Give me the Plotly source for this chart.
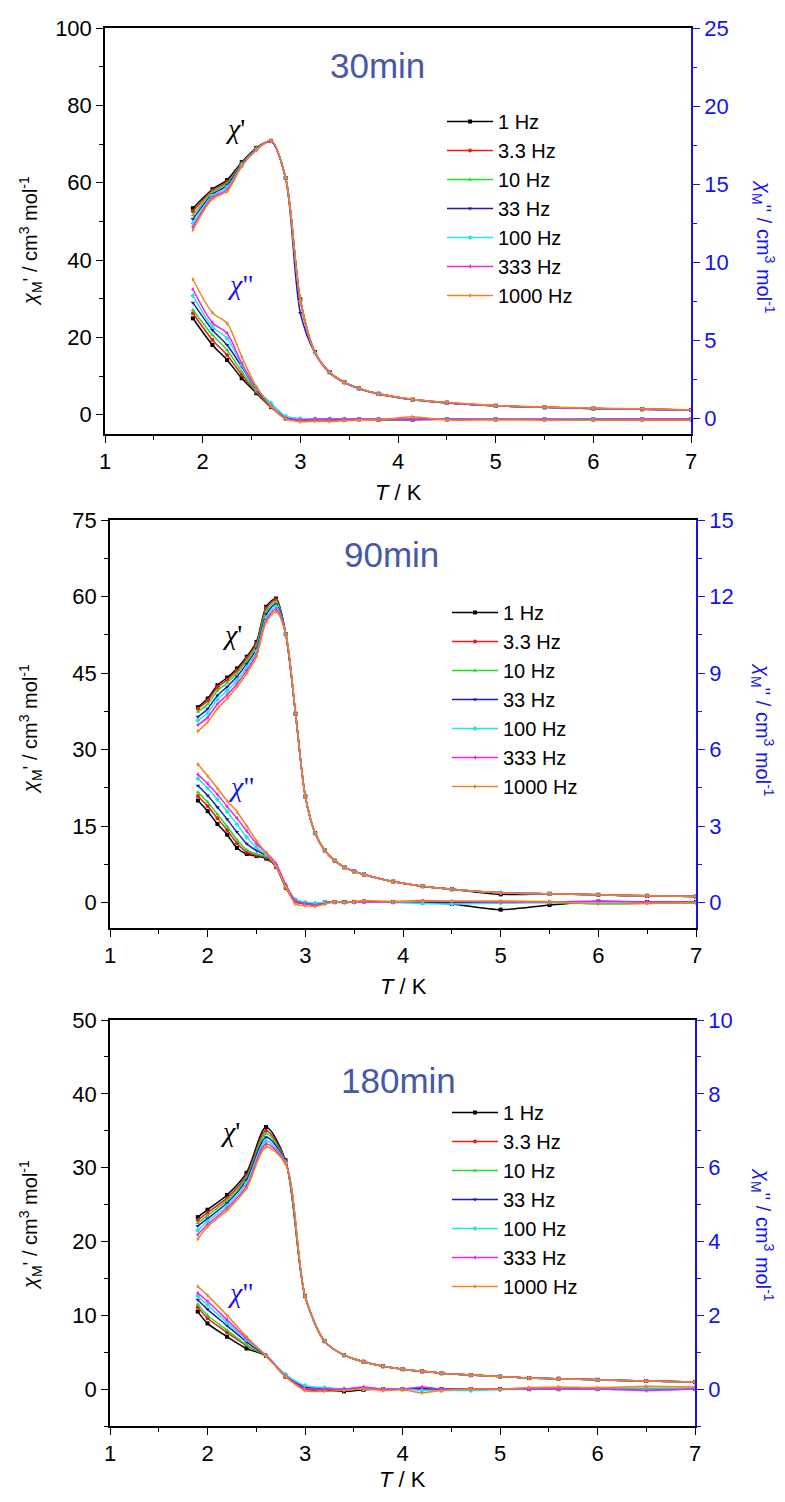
"""
plot.py - Susceptibilidad AC (chi' y chi'') vs T para 30, 90 y 180 min.
"""

import plotly.graph_objects as go

FREQS = ["1 Hz", "3.3 Hz", "10 Hz", "33 Hz", "100 Hz", "333 Hz", "1000 Hz"]
COLORS = ["#000000", "#F01818", "#22DD22", "#1E1EB4", "#22E6E6", "#F020F0", "#F28322"]
SYMBOLS = ["square", "circle", "triangle-up", "triangle-down", "diamond",
           "triangle-left", "triangle-right"]

# ---- 30 min ----
T_30 = [1.9, 2.1, 2.25, 2.4, 2.55, 2.7, 2.85, 3.0, 3.15, 3.3, 3.45, 3.6, 3.8,
        4.15, 4.5, 5.0, 5.5, 6.0, 6.5, 7.0]
CHI1_30 = [
    [53.4, 58.3, 60.7, 65.3, 69.0, 70.8, 61.2, 29.8, 16.2, 11.0, 8.4, 6.8, 5.4, 3.9, 3.1, 2.3, 1.9, 1.6, 1.4, 1.2],
    [52.6, 58.0, 60.2, 65.0, 68.9, 70.8, 61.2, 29.6, 16.1, 10.9, 8.4, 6.8, 5.4, 3.9, 3.1, 2.3, 1.9, 1.6, 1.4, 1.2],
    [51.6, 57.6, 59.8, 64.9, 68.8, 70.8, 61.2, 29.5, 16.1, 10.9, 8.3, 6.8, 5.4, 3.9, 3.1, 2.3, 1.9, 1.6, 1.4, 1.2],
    [50.6, 57.0, 59.3, 64.7, 68.7, 70.7, 61.0, 26.3, 15.9, 10.8, 8.3, 6.7, 5.3, 3.9, 3.0, 2.3, 1.9, 1.6, 1.4, 1.2],
    [49.5, 56.6, 58.8, 64.5, 68.6, 70.8, 61.2, 29.4, 16.0, 10.9, 8.3, 6.8, 5.4, 3.9, 3.1, 2.3, 1.9, 1.6, 1.4, 1.2],
    [48.6, 56.2, 58.2, 64.3, 68.5, 70.8, 61.2, 29.5, 16.0, 10.9, 8.3, 6.8, 5.4, 3.9, 3.1, 2.3, 1.9, 1.6, 1.4, 1.2],
    [47.8, 55.8, 57.7, 64.2, 68.4, 71.0, 61.2, 29.8, 16.1, 11.0, 8.4, 6.8, 5.4, 4.0, 3.2, 2.4, 2.0, 1.7, 1.5, 1.3],
]
CHI2_30 = [
    [6.41, 4.70, 3.74, 2.57, 1.61, 0.72, 0.0, -0.10, -0.08, -0.08, -0.08, -0.06, -0.08, -0.08, -0.06, -0.06, -0.06, -0.06, -0.06, -0.06],
    [6.73, 5.02, 4.06, 2.78, 1.68, 0.74, 0.0, -0.10, -0.08, -0.08, -0.06, -0.06, -0.06, -0.06, -0.06, -0.06, -0.06, -0.06, -0.06, -0.06],
    [6.94, 5.34, 4.38, 2.99, 1.75, 0.76, 0.02, -0.08, -0.06, -0.06, -0.06, -0.05, -0.06, -0.06, -0.05, -0.05, -0.06, -0.06, -0.06, -0.06],
    [7.41, 5.66, 4.70, 3.31, 1.85, 0.80, 0.05, -0.06, -0.06, -0.06, -0.05, -0.05, -0.05, -0.06, -0.05, -0.05, -0.05, -0.05, -0.05, -0.05],
    [7.86, 5.87, 5.13, 3.42, 1.90, 0.99, 0.15, -0.02, -0.03, -0.03, -0.03, -0.04, -0.04, -0.05, -0.05, -0.04, -0.04, -0.05, -0.05, -0.05],
    [8.27, 6.13, 5.45, 3.53, 1.95, 0.82, 0.02, -0.08, -0.05, -0.04, -0.04, -0.04, -0.05, -0.06, -0.06, -0.06, -0.06, -0.08, -0.06, -0.06],
    [8.91, 6.77, 6.09, 3.95, 2.03, 0.80, -0.05, -0.21, -0.18, -0.20, -0.15, -0.10, -0.10, 0.10, -0.10, -0.10, -0.12, -0.12, -0.12, -0.12],
]

# ---- 90 min ----
T_90 = [1.9, 2.0, 2.1, 2.2, 2.3, 2.4, 2.5, 2.6, 2.7, 2.8, 2.9, 3.0, 3.1, 3.2, 3.3,
        3.4, 3.5, 3.6, 3.9, 4.2, 4.5, 5.0, 5.5, 6.0, 6.5, 7.0]
CHI1_90 = [
    [38.3, 40.0, 42.6, 44.1, 45.9, 48.2, 51.1, 58.0, 59.6, 52.6, 37.0, 20.8, 13.6, 10.2, 8.2, 6.9, 6.1, 5.5, 4.1, 3.2, 2.6, 1.6, 1.7, 1.5, 1.3, 1.2],
    [38.0, 39.6, 42.2, 43.7, 45.5, 47.9, 50.8, 57.7, 59.4, 52.6, 37.0, 20.8, 13.6, 10.2, 8.2, 6.9, 6.1, 5.5, 4.1, 3.2, 2.6, 1.9, 1.7, 1.5, 1.3, 1.2],
    [37.4, 38.9, 41.5, 43.1, 45.0, 47.4, 50.4, 57.2, 59.0, 52.6, 37.0, 20.8, 13.6, 10.2, 8.2, 6.9, 6.1, 5.5, 4.1, 3.2, 2.6, 1.9, 1.7, 1.5, 1.3, 1.2],
    [36.4, 38.0, 40.6, 42.3, 44.3, 46.8, 49.8, 56.5, 58.5, 52.6, 37.0, 20.8, 13.6, 10.2, 8.2, 6.9, 6.1, 5.5, 4.1, 3.2, 2.6, 1.9, 1.7, 1.5, 1.3, 1.2],
    [35.7, 37.2, 39.8, 41.5, 43.6, 46.1, 49.2, 55.9, 58.0, 52.6, 37.0, 20.8, 13.6, 10.2, 8.2, 6.9, 6.1, 5.5, 4.1, 3.2, 2.6, 1.9, 1.7, 1.5, 1.3, 1.2],
    [34.8, 36.3, 38.9, 40.7, 42.9, 45.5, 48.7, 55.4, 57.5, 52.6, 37.0, 20.8, 13.6, 10.2, 8.2, 6.9, 6.1, 5.5, 4.1, 3.2, 2.6, 1.9, 1.7, 1.5, 1.3, 1.2],
    [33.6, 35.4, 38.0, 40.0, 42.3, 44.9, 48.2, 55.0, 57.0, 52.6, 37.0, 20.8, 13.6, 10.2, 8.2, 6.9, 6.1, 5.5, 4.1, 3.2, 2.6, 1.9, 1.7, 1.5, 1.3, 1.2],
]
CHI2_90 = [
    [4.00, 3.58, 3.08, 2.66, 2.14, 1.90, 1.82, 1.72, 1.40, 0.58, 0.04, -0.06, -0.08, 0.0, 0.02, 0.02, 0.02, 0.04, 0.02, 0.0, -0.06, -0.28, -0.10, 0.04, 0.02, 0.02],
    [4.18, 3.78, 3.30, 2.84, 2.32, 1.98, 1.86, 1.76, 1.40, 0.58, 0.04, -0.04, -0.06, 0.0, 0.02, 0.02, 0.02, 0.04, 0.02, 0.02, 0.0, 0.0, 0.02, 0.02, 0.0, 0.0],
    [4.32, 3.94, 3.46, 2.98, 2.46, 2.06, 1.90, 1.80, 1.42, 0.60, 0.06, -0.04, -0.06, 0.0, 0.02, 0.02, 0.02, 0.04, 0.04, 0.02, 0.0, 0.0, 0.0, -0.04, -0.02, 0.0],
    [4.58, 4.20, 3.74, 3.26, 2.76, 2.30, 2.04, 1.84, 1.44, 0.64, 0.08, -0.02, -0.04, 0.0, 0.02, 0.0, 0.02, 0.02, 0.02, 0.02, 0.0, 0.02, 0.02, 0.02, 0.0, 0.0],
    [4.86, 4.48, 4.04, 3.56, 3.06, 2.56, 2.16, 1.88, 1.46, 0.68, 0.12, 0.02, -0.02, 0.0, 0.0, 0.0, 0.0, 0.02, 0.0, -0.04, -0.06, -0.02, 0.0, 0.0, 0.0, 0.0],
    [5.02, 4.66, 4.24, 3.76, 3.30, 2.80, 2.30, 1.96, 1.52, 0.70, 0.06, -0.04, -0.10, -0.04, 0.02, 0.0, 0.02, 0.02, 0.02, 0.08, 0.04, 0.02, 0.02, 0.06, 0.02, 0.02],
    [5.42, 4.96, 4.48, 3.98, 3.56, 3.00, 2.42, 1.94, 1.42, 0.62, -0.06, -0.12, -0.16, -0.06, 0.04, 0.0, 0.04, 0.08, 0.04, 0.06, 0.06, 0.06, 0.04, -0.06, -0.04, 0.0],
]

# ---- 180 min ----
T_180 = [1.9, 2.0, 2.2, 2.4, 2.6, 2.8, 3.0, 3.2, 3.4, 3.6, 3.8, 4.0, 4.2, 4.4,
         4.7, 5.0, 5.3, 5.6, 6.0, 6.5, 7.0]
CHI1_180 = [
    [23.3, 24.3, 26.3, 29.3, 35.5, 31.0, 12.6, 6.5, 4.6, 3.7, 3.1, 2.7, 2.4, 2.15, 1.9, 1.7, 1.5, 1.4, 1.25, 1.1, 0.95],
    [22.9, 23.9, 25.9, 28.9, 35.0, 30.9, 12.6, 6.5, 4.6, 3.7, 3.1, 2.7, 2.4, 2.15, 1.9, 1.7, 1.5, 1.4, 1.25, 1.1, 0.95],
    [22.5, 23.5, 25.6, 28.6, 34.6, 30.8, 12.6, 6.5, 4.6, 3.7, 3.1, 2.7, 2.4, 2.15, 1.9, 1.7, 1.5, 1.4, 1.25, 1.1, 0.95],
    [22.1, 23.1, 25.2, 28.3, 34.1, 30.8, 12.6, 6.5, 4.6, 3.7, 3.1, 2.7, 2.4, 2.15, 1.9, 1.7, 1.5, 1.4, 1.25, 1.1, 0.95],
    [21.5, 22.7, 24.8, 27.9, 33.6, 30.7, 12.6, 6.5, 4.6, 3.7, 3.1, 2.7, 2.4, 2.15, 1.9, 1.7, 1.5, 1.4, 1.25, 1.1, 0.95],
    [20.9, 22.3, 24.5, 27.5, 33.2, 30.6, 12.6, 6.5, 4.6, 3.7, 3.1, 2.7, 2.4, 2.15, 1.9, 1.7, 1.5, 1.4, 1.25, 1.1, 0.95],
    [20.3, 22.0, 24.2, 27.2, 32.8, 30.5, 12.6, 6.5, 4.6, 3.7, 3.1, 2.7, 2.4, 2.15, 1.9, 1.7, 1.5, 1.4, 1.25, 1.1, 0.95],
]
CHI2_180 = [
    [2.10, 1.78, 1.42, 1.10, 0.90, 0.34, 0.0, -0.02, -0.06, -0.02, 0.0, 0.0, 0.0, 0.0, 0.0, 0.0, 0.0, 0.0, 0.0, 0.0, 0.0],
    [2.22, 1.92, 1.54, 1.18, 0.90, 0.34, 0.02, 0.0, 0.0, 0.0, 0.0, 0.0, 0.0, 0.0, 0.0, 0.0, 0.0, 0.0, 0.0, 0.0, 0.0],
    [2.30, 2.00, 1.60, 1.20, 0.90, 0.36, 0.04, 0.0, 0.0, 0.02, 0.0, 0.0, 0.0, 0.0, 0.0, 0.0, 0.02, 0.02, 0.02, 0.02, 0.02],
    [2.42, 2.16, 1.72, 1.28, 0.90, 0.38, 0.06, 0.02, 0.0, 0.0, 0.0, 0.0, 0.02, 0.0, 0.0, 0.0, 0.0, 0.0, 0.0, 0.0, 0.0],
    [2.52, 2.28, 1.80, 1.34, 0.92, 0.40, 0.10, 0.04, 0.0, 0.0, 0.0, 0.0, -0.04, -0.04, -0.04, -0.02, 0.0, 0.0, 0.0, 0.0, 0.0],
    [2.60, 2.38, 1.88, 1.38, 0.92, 0.36, 0.02, 0.0, 0.0, 0.06, 0.0, 0.0, 0.06, 0.0, 0.0, 0.0, 0.0, 0.0, 0.0, -0.04, 0.0],
    [2.78, 2.54, 2.00, 1.42, 0.90, 0.34, -0.04, -0.06, -0.04, 0.0, -0.04, -0.02, -0.10, -0.04, 0.0, 0.0, 0.04, 0.06, 0.04, 0.08, 0.06],
]

# Rangos de ejes (izq chi', der chi'') y ticks
PANELS = [
    dict(label="30min", T=T_30, chi1=CHI1_30, chi2=CHI2_30,
         yl=[-5, 100], dl=20, yr=[-1, 25], dr=5),
    dict(label="90min", T=T_90, chi1=CHI1_90, chi2=CHI2_90,
         yl=[-5, 75], dl=15, yr=[-1, 15], dr=3),
    dict(label="180min", T=T_180, chi1=CHI1_180, chi2=CHI2_180,
         yl=[-5, 50], dl=10, yr=[-1, 10], dr=2),
]

# La pagina tiene 8 px de margen en el body: la figura se achica y se corre
WIN_W, WIN_H, OFF = 785, 1502, 8
W, H = WIN_W - 2 * OFF, WIN_H - 2 * OFF


def px(x):
    return (x - OFF) / W


def py(y):
    return 1 - (y - OFF) / H


# cajas en pixeles de ventana: (izq, der, arriba, abajo)
BOXES = [(105, 691, 28, 434), (110, 696, 520, 928), (110, 695, 1020, 1426)]
LEGEND_POS = [(442, 102), (447, 593), (447, 1093)]
TXT_POS = [  # "Xmin", chi', chi'' (centros en px)
    ((377, 65), (235, 128), (240, 284)),
    ((391, 554), (232, 634), (241, 786)),
    ((398, 1080), (230, 1131), (240, 1292)),
]
YTITLE_SHIFT = [(10, 16), (5, 6), (2, 12)]  # corrimiento del centro (izq, der)
XTITLE_GAP = [58, 58, 53]  # distancia eje -> "T / K"

FONT = "Liberation Sans, Arial, sans-serif"
SERIF = "Liberation Serif, Times New Roman, serif"
BLUE = "#1414E6"
LABEL_BLUE = "#4659A6"

fig = go.Figure()
layout = {}

for i, p in enumerate(PANELS):
    xa = "x" if i == 0 else f"x{i + 1}"
    yl = f"y{2 * i + 1}" if i else "y"
    yr = f"y{2 * i + 2}"
    leg = "legend" if i == 0 else f"legend{i + 1}"

    # chi'' primero (eje derecho), despues chi' (eje izquierdo)
    for k in range(len(FREQS)):
        fig.add_trace(go.Scatter(
            x=p["T"], y=p["chi2"][k], xaxis=xa, yaxis=yr,
            mode="lines+markers", name=FREQS[k], showlegend=False,
            line=dict(color=COLORS[k], width=1.5, shape="spline", smoothing=0.8),
            marker=dict(symbol=SYMBOLS[k], size=4, color=COLORS[k]),
        ))
    for k in range(len(FREQS)):
        fig.add_trace(go.Scatter(
            x=p["T"], y=p["chi1"][k], xaxis=xa, yaxis=yl,
            mode="lines+markers", name=FREQS[k], legend=leg,
            line=dict(color=COLORS[k], width=1.5, shape="spline", smoothing=0.8),
            marker=dict(symbol=SYMBOLS[k], size=4, color=COLORS[k]),
        ))

    left, right, top, bottom = BOXES[i]
    xdom = [px(left), px(right)]
    ydom = [py(bottom), py(top)]

    xkey = "xaxis" if i == 0 else f"xaxis{i + 1}"
    ylkey = "yaxis" if i == 0 else f"yaxis{2 * i + 1}"
    yrkey = f"yaxis{2 * i + 2}"

    layout[xkey] = dict(
        domain=xdom, anchor=yl, range=[1, 7], dtick=1, tick0=1, automargin=False,
        showline=True, linecolor="black", linewidth=1.5, mirror=True,
        ticks="outside", ticklen=7, tickwidth=1.3, tickcolor="black",
        minor=dict(ticks="outside", ticklen=4, dtick=0.5, tick0=1, tickcolor="black"),
        showgrid=False, zeroline=False,
        tickfont=dict(size=22, color="black", family=FONT),
    )
    layout[ylkey] = dict(
        domain=ydom, anchor=xa, range=p["yl"], dtick=p["dl"], tick0=0, automargin=False,
        showline=True, linecolor="black", linewidth=1.5,
        ticks="outside", ticklen=7, tickwidth=1.3, tickcolor="black",
        minor=dict(ticks="outside", ticklen=4, dtick=p["dl"] / 2, tick0=0, tickcolor="black"),
        showgrid=False, zeroline=False,
        tickfont=dict(size=22, color="black", family=FONT),
    )
    layout[yrkey] = dict(
        overlaying=yl, anchor=xa, side="right", range=p["yr"], dtick=p["dr"], tick0=0,
        automargin=False,
        showline=True, linecolor=BLUE, linewidth=1.5,
        ticks="outside", ticklen=7, tickwidth=1.3, tickcolor=BLUE,
        minor=dict(ticks="outside", ticklen=4, dtick=p["dr"] / 2, tick0=0, tickcolor=BLUE),
        showgrid=False, zeroline=False,
        tickfont=dict(size=22, color=BLUE, family=FONT),
    )

    lx, ly = LEGEND_POS[i]
    layout[leg] = dict(
        x=px(lx), y=py(ly), xanchor="left", yanchor="top",
        bgcolor="rgba(0,0,0,0)", borderwidth=0,
        font=dict(size=20, color="black", family=FONT),
        itemwidth=46, tracegroupgap=0,
    )

    # titulos de ejes y etiquetas
    mid = (top + bottom) / 2
    sl, sr = YTITLE_SHIFT[i]
    fig.add_annotation(
        x=px(30), y=py(mid + sl), xref="paper", yref="paper", textangle=-90,
        xanchor="center", yanchor="middle", showarrow=False,
        text="<i>χ</i><sub>M</sub>' / cm<sup>3</sup> mol<sup>-1</sup>",
        font=dict(size=20, color="black", family=FONT),
    )
    fig.add_annotation(
        x=px(763), y=py(mid + sr), xref="paper", yref="paper", textangle=90,
        xanchor="center", yanchor="middle", showarrow=False,
        text="<i>χ</i><sub>M</sub>'' / cm<sup>3</sup> mol<sup>-1</sup>",
        font=dict(size=20, color=BLUE, family=FONT),
    )
    fig.add_annotation(
        x=px((left + right) / 2), y=py(bottom + XTITLE_GAP[i]), xref="paper", yref="paper",
        xanchor="center", yanchor="middle", showarrow=False, text="<i>T</i> / K",
        font=dict(size=22, color="black", family=FONT),
    )
    (tx, ty), (c1x, c1y), (c2x, c2y) = TXT_POS[i]
    fig.add_annotation(
        x=px(tx), y=py(ty), xref="paper", yref="paper", showarrow=False,
        xanchor="center", yanchor="middle",
        text=p["label"], font=dict(size=35, color=LABEL_BLUE, family=FONT),
    )
    fig.add_annotation(
        x=px(c1x), y=py(c1y), xref="paper", yref="paper", showarrow=False,
        xanchor="center", yanchor="middle",
        text="<i>χ</i>'", font=dict(size=28, color="black", family=SERIF),
    )
    fig.add_annotation(
        x=px(c2x), y=py(c2y), xref="paper", yref="paper", showarrow=False,
        xanchor="center", yanchor="middle",
        text="<i>χ</i>\"", font=dict(size=28, color=BLUE, family=SERIF),
    )

fig.update_layout(
    template="none",
    width=W, height=H,
    margin=dict(l=0, r=0, t=0, b=0),
    plot_bgcolor="white", paper_bgcolor="white",
    font=dict(family=FONT),
    **layout,
)

fig.write_html("out.html")
